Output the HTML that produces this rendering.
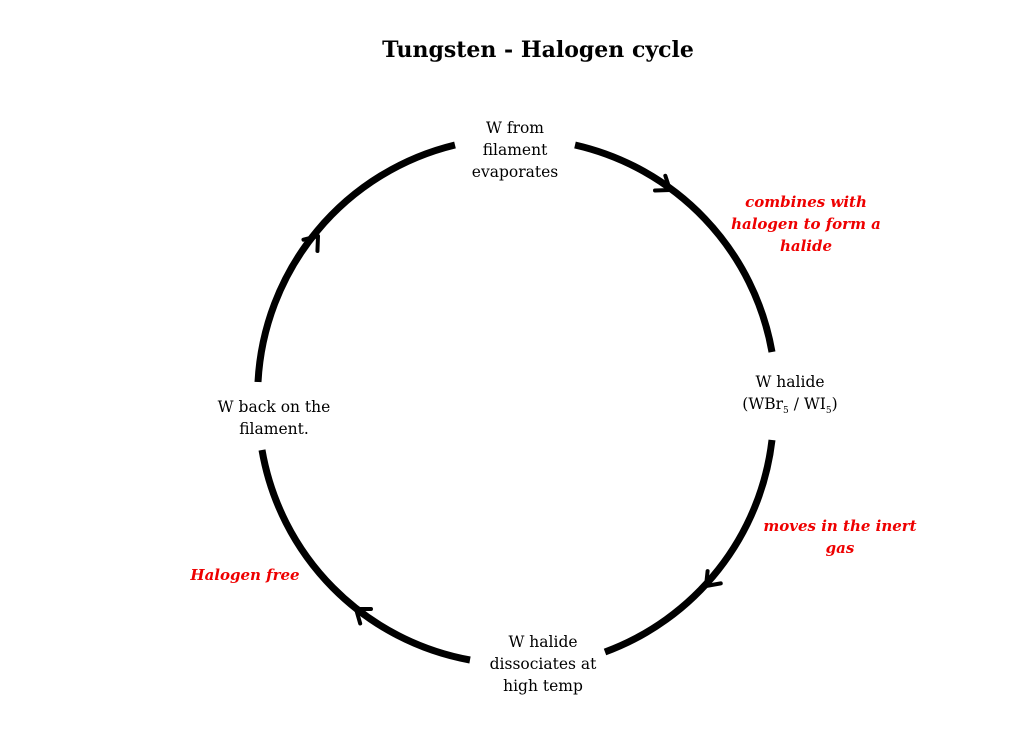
<!DOCTYPE html>
<html><head><meta charset="utf-8"><style>
body{margin:0;background:#fff;width:1024px;height:731px;overflow:hidden;position:relative;font-family:"DejaVu Serif","Liberation Serif",serif;}
.t{position:absolute;text-align:center;font-size:15.5px;line-height:22px;color:#000;}
.r{position:absolute;text-align:center;font-size:15px;line-height:22px;color:#e00;font-style:italic;font-weight:bold;}
sub{font-size:9px;vertical-align:-4px;line-height:0}
</style></head><body>
<svg width="1024" height="731" style="position:absolute;left:0;top:0">
<g fill="none" stroke="#000" stroke-width="7">
<path d="M575,145 A258,258 0 0 1 772,352"/>
<path d="M772,440 A258,258 0 0 1 605,652"/>
<path d="M470,660 A258,258 0 0 1 262,450"/>
<path d="M258,382 A258,258 0 0 1 455,145"/>
</g>
<g fill="none" stroke="#000" stroke-width="4" stroke-linecap="round" stroke-linejoin="round">
<path transform="translate(670,190) rotate(35)" d="M-12,-9 L0,0 L-12,9"/>
<path transform="translate(706,586) rotate(133)" d="M-12,-9 L0,0 L-12,9"/>
<path transform="translate(356,609) rotate(217)" d="M-12,-9 L0,0 L-12,9"/>
<path transform="translate(318,236) rotate(-51)" d="M-12,-9 L0,0 L-12,9"/>
</g>
</svg>
<div class="t" style="left:353px;top:34px;width:370px;font-size:22px;line-height:32px;font-weight:bold">Tungsten - Halogen cycle</div>
<div class="t" style="left:430px;top:117px;width:170px">W from<br>filament<br>evaporates</div>
<div class="r" style="left:696px;top:191px;width:220px">combines with<br>halogen to form a<br>halide</div>
<div class="t" style="left:710px;top:371px;width:160px">W halide<br>(WBr<sub>5</sub> / WI<sub>5</sub>)</div>
<div class="r" style="left:730px;top:515px;width:220px">moves in the inert<br>gas</div>
<div class="t" style="left:458px;top:631px;width:170px">W halide<br>dissociates at<br>high temp</div>
<div class="r" style="left:165px;top:564px;width:160px">Halogen free</div>
<div class="t" style="left:184px;top:396px;width:180px">W back on the<br>filament.</div>
</body></html>
